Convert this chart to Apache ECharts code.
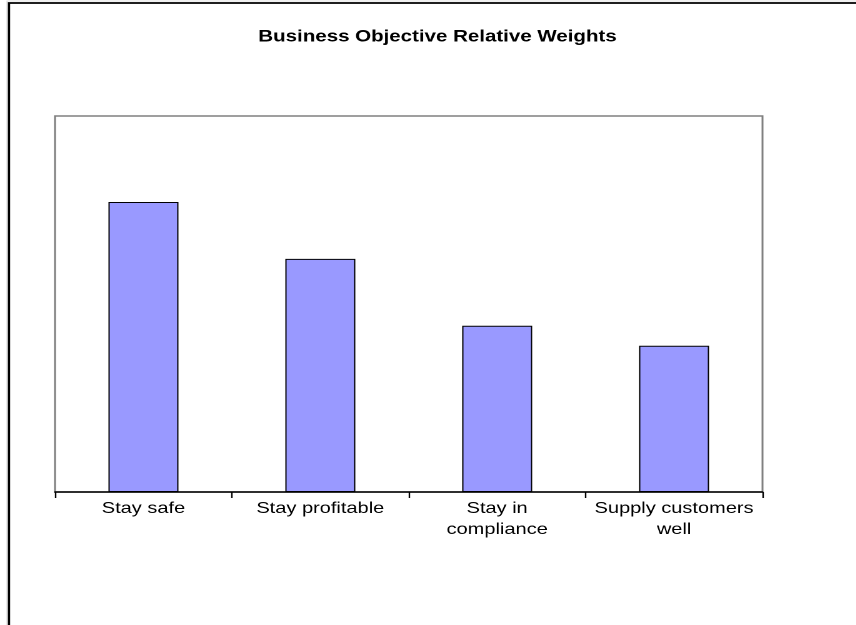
<!DOCTYPE html>
<html>
<head>
<meta charset="utf-8">
<script src="https://cdn.jsdelivr.net/npm/echarts@6/dist/echarts.min.js"></script>
<style>
  html, body { margin: 0; padding: 0; background: #fff; overflow: hidden; }
  /* chart is laid out on a narrower canvas and widened horizontally */
  #chart {
    width: 685px;
    height: 625px;
    transform: scaleX(1.25);
    transform-origin: 0 0;
  }
</style>
</head>
<body>
<div id="chart"></div>
<script>
// Objectives and their relative weights (weights sum to 1)
const objectives = ['Stay safe', 'Stay profitable', 'Stay in\ncompliance', 'Supply customers\nwell'];
const weights = [0.347, 0.279, 0.199, 0.175];
const titleText = 'Business Objective Relative Weights';

const chart = echarts.init(document.getElementById('chart'), null, {
  renderer: 'canvas',
  devicePixelRatio: 2
});

const font = 'Liberation Sans, Arial, sans-serif';

chart.setOption({
  animation: false,
  backgroundColor: '#ffffff',
  title: {
    text: titleText,
    left: 345,
    textAlign: 'center',
    top: 24,
    textStyle: {
      fontFamily: font,
      fontSize: 16.4,
      fontWeight: 'bold',
      color: '#000000'
    }
  },
  graphic: [
    // outer chart-area frame
    {
      type: 'rect',
      shape: { x: 5.6, y: 1, width: 900, height: 700 },
      style: { fill: 'none', stroke: '#d8d8d8', lineWidth: 0.8 },
      silent: true
    },
    {
      type: 'rect',
      shape: { x: 7.2, y: 3, width: 900, height: 700 },
      style: { fill: 'none', stroke: '#000000', lineWidth: 1.8 },
      silent: true
    }
  ],
  grid: {
    left: 44,
    right: 75,
    top: 116,
    bottom: 133,
    show: true,
    borderColor: '#808080',
    borderWidth: 1.5,
    backgroundColor: '#ffffff'
  },
  xAxis: {
    type: 'category',
    data: objectives,
    boundaryGap: true,
    axisLine: { show: true, lineStyle: { color: '#000000', width: 1.5 } },
    axisTick: { show: true, length: 6, alignWithLabel: false, lineStyle: { color: '#000000', width: 1.2 } },
    axisLabel: {
      margin: 6,
      interval: 0,
      fontFamily: font,
      fontSize: 16,
      lineHeight: 21,
      color: '#000000'
    }
  },
  yAxis: {
    type: 'value',
    min: 0,
    max: 0.45,
    interval: 0.05,
    axisLine: { show: false },
    axisTick: { show: false },
    axisLabel: { show: false },
    splitLine: { show: false }
  },
  series: [{
    type: 'bar',
    data: weights,
    barWidth: 56,
    itemStyle: {
      color: '#9999ff',
      borderColor: '#000000',
      borderWidth: 1
    }
  }]
});
</script>
</body>
</html>
